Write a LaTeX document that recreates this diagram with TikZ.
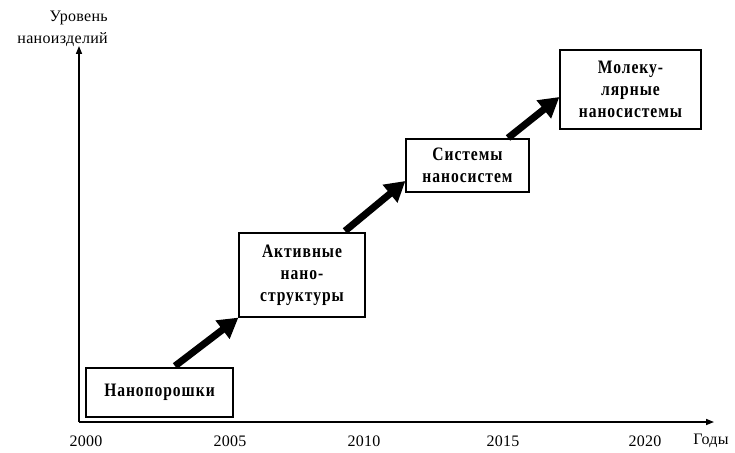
\documentclass[tikz,border=0pt]{standalone}
\usepackage{fontspec}
\setmainfont{Liberation Serif}
\newfontfamily\boxfont[LetterSpace=5,FakeStretch=0.82]{Liberation Serif}
\newfontfamily\lblfont[LetterSpace=2]{Liberation Serif}
\usetikzlibrary{arrows.meta}
\begin{document}
\begin{tikzpicture}[x=1pt,y=-1pt,
  stage/.style={draw, line width=1.2pt, fill=white, font=\boxfont\bfseries\fontsize{19}{22}\selectfont, align=center, inner sep=0pt},
  bigarrow/.style={line width=7pt, -{Triangle[length=20pt,width=22pt]}},
  axis/.style={line width=1.5pt, -{Triangle[length=8pt,width=6pt]}},
  lbl/.style={font=\lblfont\fontsize{16}{18}\selectfont, inner sep=0pt}]
\useasboundingbox (0,0) rectangle (735,452);
\coordinate (O) at (79,422);
\coordinate (Ytop) at (79,46);
\coordinate (Xend) at (714,422);
\draw[axis] (O) -- (Ytop);
\draw[axis] (O) -- (Xend);
\node[lbl, anchor=east] (ylab1) at (108,18) {Уровень};
\node[lbl, anchor=east] (ylab2) at (108,40) {наноизделий};
\node[lbl] (y2000) at (86,441) {2000};
\node[lbl] (y2005) at (230,441) {2005};
\node[lbl] (y2010) at (364,441) {2010};
\node[lbl] (y2015) at (503,441) {2015};
\node[lbl] (y2020) at (645,441) {2020};
\node[lbl] (years) at (711,441) {Годы};
\node[stage, minimum width=147pt, minimum height=49pt] (n1) at (159.5,392.5) {Нанопорошки};
\node[stage, minimum width=126pt, minimum height=84pt] (n2) at (302,275) {Активные\\нано-\\структуры};
\node[stage, minimum width=123pt, minimum height=53pt] (n3) at (467.5,165.5) {Системы\\наносистем};
\node[stage, minimum width=141pt, minimum height=79pt] (n4) at (630.5,89.5) {Молеку-\\лярные\\наносистемы};
\coordinate (a1s) at (175,366);
\coordinate (a2s) at (345,231);
\coordinate (a3s) at (508,138);
\draw[bigarrow] (a1s) -- (n2.south west);
\draw[bigarrow] (a2s) -- (n3.west |- 0,181);
\draw[bigarrow] (a3s) -- (n4.west |- 0,97);
\end{tikzpicture}
\end{document}
